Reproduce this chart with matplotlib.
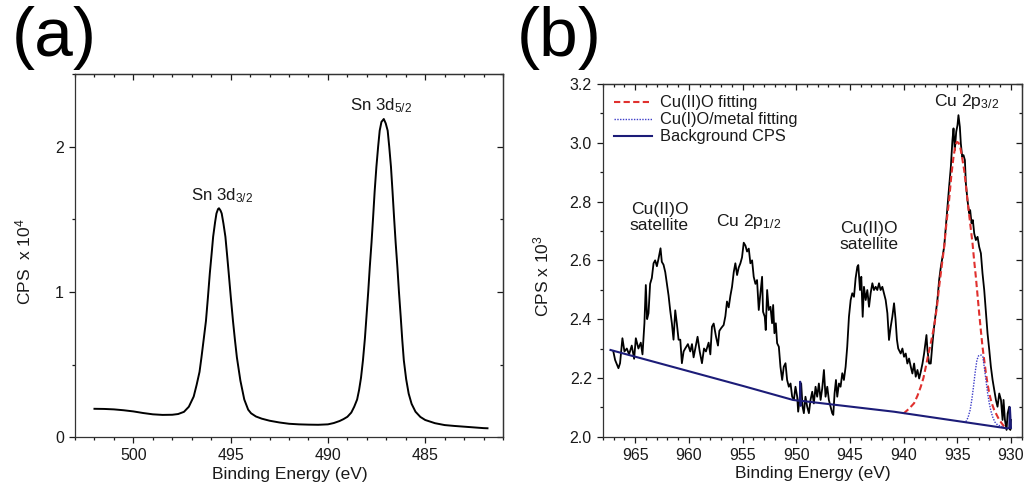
import matplotlib
matplotlib.use("Agg")
import matplotlib.pyplot as plt
from matplotlib.ticker import MultipleLocator, FormatStrFormatter

plt.rcParams['font.family'] = ['Liberation Sans', 'DejaVu Sans']
plt.rcParams['mathtext.fontset'] = 'custom'
plt.rcParams['mathtext.rm'] = 'Liberation Sans'
plt.rcParams['mathtext.default'] = 'regular'

INK = '#1a1a1a'

# Sn 3d spectrum (eV, CPS x 1e4)
sn_energy = [502.0, 501.5, 501.0, 500.5, 500.0, 499.5, 499.0, 498.5, 498.0, 497.7,
             497.4, 497.15, 496.9, 496.75, 496.6, 496.5, 496.38, 496.27, 496.17, 496.07,
             495.98, 495.9, 495.8, 495.73, 495.65, 495.6, 495.52, 495.46, 495.37, 495.27,
             495.18, 495.1, 494.99, 494.88, 494.78, 494.68, 494.5, 494.3, 494.1, 493.95,
             493.7, 493.4, 493.0, 492.5, 492.0, 491.5, 491.0, 490.5, 490.0, 489.7,
             489.4, 489.2, 489.0, 488.8, 488.65, 488.5, 488.4, 488.3, 488.2, 488.1,
             488.02, 487.93, 487.85, 487.76, 487.68, 487.6, 487.51, 487.42, 487.34, 487.25,
             487.13, 487.03, 486.93, 486.85, 486.76, 486.68, 486.6, 486.52, 486.43, 486.35,
             486.26, 486.18, 486.1, 485.98, 485.85, 485.7, 485.5, 485.25, 485.0, 484.5,
             484.0, 483.5, 483.0, 482.5, 482.0, 481.8]
sn_cps = [0.196, 0.195, 0.192, 0.186, 0.178, 0.167, 0.158, 0.154, 0.155, 0.160,
          0.175, 0.21, 0.28, 0.36, 0.45, 0.55, 0.68, 0.80, 0.96, 1.13,
          1.26, 1.38, 1.48, 1.54, 1.57, 1.576, 1.56, 1.54, 1.47, 1.38,
          1.25, 1.13, 0.96, 0.80, 0.67, 0.55, 0.39, 0.26, 0.19, 0.165,
          0.143, 0.128, 0.114, 0.102, 0.093, 0.089, 0.087, 0.086, 0.089, 0.098,
          0.112, 0.125, 0.141, 0.17, 0.21, 0.26, 0.325, 0.41, 0.53, 0.68,
          0.83, 1.00, 1.17, 1.34, 1.51, 1.69, 1.86, 2.00, 2.11, 2.17,
          2.19, 2.16, 2.11, 2.00, 1.86, 1.69, 1.51, 1.34, 1.17, 1.00,
          0.83, 0.67, 0.53, 0.40, 0.30, 0.23, 0.176, 0.14, 0.119, 0.097,
          0.084, 0.078, 0.073, 0.068, 0.063, 0.062]

# Cu 2p spectrum (eV, CPS x 1e3)
cu_energy = [967.03, 966.87, 966.56, 966.41, 966.19, 966.0, 965.78, 965.57, 965.32, 965.1,
             964.94, 964.7, 964.48, 964.32, 964.14, 964.01, 963.89, 963.76, 963.61, 963.45,
             963.29, 963.14, 962.98, 962.83, 962.64, 962.52, 962.36, 962.2, 962.05, 961.89,
             961.74, 961.58, 961.43, 961.27, 961.12, 960.96, 960.8, 960.65, 960.49, 960.34,
             960.09, 959.87, 959.71, 959.56, 959.4, 959.19, 958.99, 958.78, 958.59, 958.41,
             958.16, 958.0, 957.85, 957.69, 957.47, 957.29, 957.16, 956.98, 956.76, 956.6,
             956.45, 956.29, 956.13, 955.98, 955.82, 955.67, 955.51, 955.36, 955.2, 955.05,
             954.89, 954.73, 954.58, 954.42, 954.27, 954.11, 953.96, 953.8, 953.65, 953.49,
             953.33, 953.18, 953.09, 952.93, 952.84, 952.71, 952.56, 952.4, 952.25, 952.15,
             952.03, 951.9, 951.78, 951.62, 951.47, 951.31, 951.16, 951.0, 950.85, 950.69,
             950.53, 950.38, 950.22, 950.07, 949.91, 949.82, 949.66, 949.54, 949.41, 949.29,
             949.14, 948.98, 948.82, 948.67, 948.51, 948.36, 948.2, 948.05, 947.89, 947.73,
             947.58, 947.42, 947.27, 947.11, 946.96, 946.8, 946.65, 946.55, 946.43, 946.3,
             946.18, 946.02, 945.87, 945.71, 945.56, 945.4, 945.25, 945.09, 944.93, 944.78,
             944.62, 944.47, 944.31, 944.22, 944.06, 943.94, 943.81, 943.69, 943.53, 943.38,
             943.22, 943.07, 942.91, 942.76, 942.6, 942.45, 942.29, 942.14, 941.98, 941.83,
             941.67, 941.51, 941.36, 941.2, 941.05, 940.89, 940.75, 940.62, 940.5, 940.27,
             940.11, 939.96, 939.8, 939.65, 939.49, 939.33, 939.18, 939.02, 938.87, 938.71,
             938.55, 938.4, 938.24, 938.09, 937.87, 937.78, 937.62, 937.47, 937.31, 937.16,
             937.0, 936.85, 936.69, 936.53, 936.38, 936.22, 936.07, 935.91, 935.76, 935.6,
             935.45, 935.35, 935.23, 935.1, 934.98, 934.89, 934.76, 934.67, 934.54, 934.42,
             934.29, 934.2, 934.05, 933.89, 933.8, 933.67, 933.55, 933.42, 933.27, 933.11,
             932.96, 932.8, 932.65, 932.49, 932.33, 932.18, 932.02, 931.87, 931.71, 931.56,
             931.4, 931.25, 931.09, 930.93, 930.78, 930.69, 930.56, 930.41, 930.31, 930.16,
             930.06, 930.0]
cu_cps = [2.289, 2.261, 2.233, 2.25, 2.335, 2.29, 2.30, 2.28, 2.31, 2.265,
          2.335, 2.30, 2.32, 2.28, 2.386, 2.516, 2.40, 2.42, 2.52, 2.54,
          2.59, 2.60, 2.58, 2.605, 2.641, 2.595, 2.585, 2.56, 2.52, 2.48,
          2.43, 2.385, 2.33, 2.43, 2.385, 2.33, 2.33, 2.25, 2.29, 2.30,
          2.315, 2.29, 2.315, 2.27, 2.30, 2.34, 2.29, 2.25, 2.30, 2.29,
          2.32, 2.28, 2.374, 2.385, 2.34, 2.31, 2.36, 2.37, 2.38, 2.41,
          2.46, 2.44, 2.48, 2.51, 2.56, 2.59, 2.55, 2.575, 2.59, 2.61,
          2.66, 2.65, 2.63, 2.64, 2.59, 2.60, 2.544, 2.52, 2.533, 2.431,
          2.488, 2.544, 2.425, 2.408, 2.363, 2.499, 2.431, 2.442, 2.386, 2.448,
          2.352, 2.386, 2.318, 2.306, 2.238, 2.193, 2.238, 2.25, 2.193, 2.17,
          2.181, 2.136, 2.125, 2.17, 2.136, 2.085, 2.136, 2.181, 2.102, 2.08,
          2.136, 2.102, 2.08, 2.125, 2.153, 2.113, 2.17, 2.136, 2.181, 2.125,
          2.164, 2.227, 2.136, 2.17, 2.125, 2.102, 2.08, 2.074, 2.147, 2.193,
          2.136, 2.181, 2.17, 2.216, 2.193, 2.238, 2.306, 2.408, 2.465, 2.488,
          2.476, 2.539, 2.578, 2.584, 2.499, 2.544, 2.408, 2.51, 2.465, 2.499,
          2.442, 2.488, 2.522, 2.499, 2.51, 2.499, 2.522, 2.499, 2.51, 2.488,
          2.465, 2.42, 2.329, 2.374, 2.408, 2.454, 2.40, 2.33, 2.30, 2.283,
          2.30, 2.272, 2.283, 2.249, 2.266, 2.238, 2.215, 2.249, 2.204, 2.227,
          2.198, 2.221, 2.249, 2.283, 2.346, 2.295, 2.249, 2.249, 2.318, 2.374,
          2.42, 2.465, 2.533, 2.578, 2.612, 2.646, 2.714, 2.782, 2.85, 2.918,
          3.009, 3.049, 2.975, 3.037, 3.06, 3.094, 3.054, 2.998, 2.952, 2.958,
          2.941, 2.862, 2.805, 2.76, 2.771, 2.726, 2.737, 2.691, 2.669, 2.68,
          2.646, 2.624, 2.556, 2.499, 2.42, 2.351, 2.295, 2.238, 2.193, 2.159,
          2.125, 2.102, 2.147, 2.125, 2.057, 2.125, 2.057, 2.023, 2.079, 2.102,
          2.023, 2.057]

# Cu(II)O component
cu2_energy = [940.0, 939.5, 939.02, 938.7, 938.4, 938.15, 937.93, 937.7, 937.47, 937.16,
              936.9, 936.69, 936.45, 936.22, 936.0, 935.76, 935.55, 935.35, 935.2, 935.04,
              934.88, 934.73, 934.55, 934.36, 934.18, 933.98, 933.78, 933.58, 933.43, 933.27,
              933.11, 932.96, 932.8, 932.65, 932.49, 932.33, 932.18, 932.02, 931.8, 931.56,
              931.3, 931.09, 930.85, 930.62]
cu2_fit = [2.079, 2.095, 2.114, 2.14, 2.17, 2.20, 2.238, 2.28, 2.318, 2.374,
           2.44, 2.51, 2.58, 2.646, 2.73, 2.805, 2.89, 2.952, 2.985, 3.003,
           3.0, 2.986, 2.95, 2.907, 2.85, 2.782, 2.72, 2.658, 2.60, 2.544,
           2.48, 2.42, 2.36, 2.306, 2.26, 2.215, 2.18, 2.147, 2.115, 2.091,
           2.072, 2.057, 2.045, 2.034]

# Cu(I)O / metal component
cu1_energy = [934.2, 934.0, 933.8, 933.65, 933.49, 933.33, 933.17, 933.02, 932.86, 932.74,
              932.62, 932.48, 932.33, 932.18, 932.02, 931.87, 931.71, 931.5, 931.25, 930.78]
cu1_fit = [2.051, 2.065, 2.091, 2.125, 2.17, 2.22, 2.261, 2.275, 2.278, 2.277,
           2.272, 2.235, 2.193, 2.15, 2.114, 2.088, 2.068, 2.05, 2.04, 2.034]

# background
bg_energy = [967.3, 954.9, 950.3, 949.66, 949.63, 949.6, 949.55, 940.9, 930.3, 930.15, 930.1, 930.0]
bg_cps = [2.295, 2.172, 2.125, 2.122, 2.187, 2.105, 2.122, 2.085, 2.028, 2.03, 2.10, 2.03]


def style_axes(ax, xmajor, xminor, ymajor, yminor, yfmt):
    ax.xaxis.set_major_locator(MultipleLocator(xmajor))
    ax.xaxis.set_minor_locator(MultipleLocator(xminor))
    ax.yaxis.set_major_locator(MultipleLocator(ymajor))
    ax.yaxis.set_minor_locator(MultipleLocator(yminor))
    ax.yaxis.set_major_formatter(FormatStrFormatter(yfmt))
    ax.tick_params(which='both', direction='out', colors=INK, labelsize=11.5, width=0.9)
    ax.tick_params(which='major', length=4.5)
    ax.tick_params(which='minor', length=2.5)
    for s in ax.spines.values():
        s.set_color('#333333')
        s.set_linewidth(0.9)
    # mirrored inward ticks on top and right
    top = ax.secondary_xaxis('top')
    right = ax.secondary_yaxis('right')
    top.xaxis.set_major_locator(MultipleLocator(xmajor))
    top.xaxis.set_minor_locator(MultipleLocator(xminor))
    right.yaxis.set_major_locator(MultipleLocator(ymajor))
    right.yaxis.set_minor_locator(MultipleLocator(yminor))
    for sec in (top, right):
        sec.tick_params(which='both', direction='in', colors=INK, width=0.9,
                        labeltop=False, labelright=False)
        sec.tick_params(which='major', length=4.5)
        sec.tick_params(which='minor', length=2.5)
        for s in sec.spines.values():
            s.set_color('#333333')
            s.set_linewidth(0.9)


fig = plt.figure(figsize=(10.26, 4.95), dpi=100)

# (a) Sn 3d
ax1 = fig.add_axes([0.0731, 0.1166, 0.4172, 0.734])
ax1.plot(sn_energy, sn_cps, color='black', lw=1.4)
ax1.set_xlim(503, 481)
ax1.set_ylim(0, 2.5)
style_axes(ax1, 5, 1, 1, 0.5, '%d')
ax1.set_xlabel('Binding Energy (eV)', fontsize=12.5, color=INK)
ax1.set_ylabel('CPS  x 10$^{4}$', fontsize=12.5, color=INK)
ax1.xaxis.set_label_coords(0.502, -0.083)
ax1.yaxis.set_label_coords(-0.098, 0.4825)
ax1.text(495.46, 1.63, 'Sn 3d$_{3/2}$', ha='center', va='baseline', fontsize=12.2, color=INK)
ax1.text(487.27, 2.247, 'Sn 3d$_{5/2}$', ha='center', va='baseline', fontsize=12.2, color=INK)

# (b) Cu 2p
ax2 = fig.add_axes([0.5877, 0.1178, 0.4081, 0.7125])
ax2.plot(cu_energy, cu_cps, color='black', lw=1.3)
ax2.plot(cu2_energy, cu2_fit, color='#e0302e', lw=1.5, ls=(0, (3, 1.6)), label='Cu(II)O fitting')
ax2.plot(cu1_energy, cu1_fit, color='#3c3cc8', lw=1.0, ls=(0, (1, 1)), label='Cu(I)O/metal fitting')
ax2.plot(bg_energy, bg_cps, color='#1c1c78', lw=1.5, label='Background CPS')
ax2.set_xlim(968, 929)
ax2.set_ylim(2.0, 3.2)
style_axes(ax2, 5, 1, 0.2, 0.1, '%.1f')
ax2.set_xlabel('Binding Energy (eV)', fontsize=12.5, color=INK)
ax2.set_ylabel('CPS x 10$^{3}$', fontsize=12.5, color=INK)
ax2.xaxis.set_label_coords(0.5015, -0.083)
ax2.yaxis.set_label_coords(-0.1235, 0.4556)
ax2.legend(loc='upper left', frameon=False, fontsize=11.8, handlelength=2.3,
           handletextpad=0.5, labelspacing=0.12, borderaxespad=0.3,
           labelcolor=INK)

ax2.text(934.17, 3.125, 'Cu 2p$_{3/2}$', ha='center', va='baseline', fontsize=12.6, color=INK)
ax2.text(954.42, 2.718, 'Cu 2p$_{1/2}$', ha='center', va='baseline', fontsize=12.6, color=INK)
ax2.text(962.73, 2.80, 'Cu(II)O\nsatellite', ha='center', va='top', fontsize=12.6,
         color=INK, linespacing=1.1)
ax2.text(943.22, 2.735, 'Cu(II)O\nsatellite', ha='center', va='top', fontsize=12.6,
         color=INK, linespacing=1.1)

fig.text(0.011, 0.987, '(a)', fontsize=50, ha='left', va='top', color='black')
fig.text(0.504, 0.987, '(b)', fontsize=50, ha='left', va='top', color='black')

fig.savefig('out.png', dpi=100)
